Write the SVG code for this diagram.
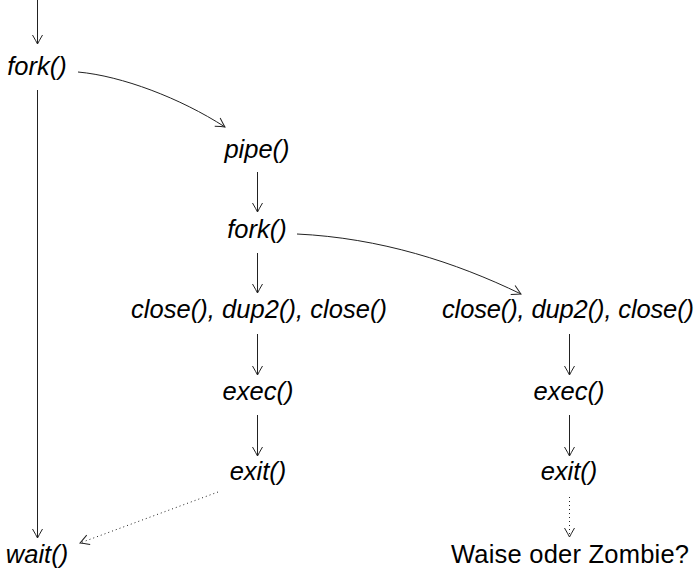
<svg xmlns="http://www.w3.org/2000/svg" width="699" height="573" viewBox="0 0 699 573">
<defs>
<style>
.t{font-family:"Liberation Sans","DejaVu Sans",sans-serif;font-size:25.5px;font-style:italic;fill:#000;text-anchor:middle}
.u{font-family:"Liberation Sans","DejaVu Sans",sans-serif;font-size:25.5px;fill:#000;text-anchor:middle}
.e{fill:none;stroke:#222;stroke-width:1}
.d{stroke-dasharray:1 3}
</style>
<marker id="ah" markerWidth="12" markerHeight="12" viewBox="-10 -6 12 12" refX="0" refY="0" orient="auto" markerUnits="userSpaceOnUse">
<path d="M-9,-5 Q-3,-1.5 0,0 Q-3,1.5 -9,5" fill="none" stroke="#222" stroke-width="1"/>
</marker>
</defs>
<rect width="699" height="573" fill="#fff"/>
<g id="connectors">
<path class="e" d="M37.5,0 V44" marker-end="url(#ah)"/>
<path class="e" d="M37.5,90 V538" marker-end="url(#ah)"/>
<path class="e" d="M78,72 C122,76 180,98 225,127" marker-end="url(#ah)"/>
<path class="e" d="M257.5,172 V212" marker-end="url(#ah)"/>
<path class="e" d="M297,234 C380,238 455,262 521,294" marker-end="url(#ah)"/>
<path class="e" d="M257.5,253 V293" marker-end="url(#ah)"/>
<path class="e" d="M257.5,334 V375" marker-end="url(#ah)"/>
<path class="e" d="M257.5,415 V456" marker-end="url(#ah)"/>
<path class="e d" d="M218,492 L80,543" marker-end="url(#ah)"/>
<path class="e" d="M569.5,334 V375" marker-end="url(#ah)"/>
<path class="e" d="M569.5,415 V456" marker-end="url(#ah)"/>
<path class="e d" d="M569.5,497 V537" marker-end="url(#ah)"/>
</g>
<g id="fork1"><text class="t" x="37" y="75">fork()</text></g>
<g id="pipe"><text class="t" x="257" y="158">pipe()</text></g>
<g id="fork2"><text class="t" x="257" y="238">fork()</text></g>
<g id="close-left"><text class="t" x="259" y="318" textLength="256" lengthAdjust="spacing">close(), dup2(), close()</text></g>
<g id="exec-left"><text class="t" x="258" y="400">exec()</text></g>
<g id="exit-left"><text class="t" x="258" y="480">exit()</text></g>
<g id="wait"><text class="t" x="37" y="563">wait()</text></g>
<g id="close-right"><text class="t" x="568" y="318" textLength="252" lengthAdjust="spacing">close(), dup2(), close()</text></g>
<g id="exec-right"><text class="t" x="569" y="400">exec()</text></g>
<g id="exit-right"><text class="t" x="569" y="480">exit()</text></g>
<g id="waise"><text class="u" x="570" y="563" textLength="238" lengthAdjust="spacing">Waise oder Zombie?</text></g>
</svg>
